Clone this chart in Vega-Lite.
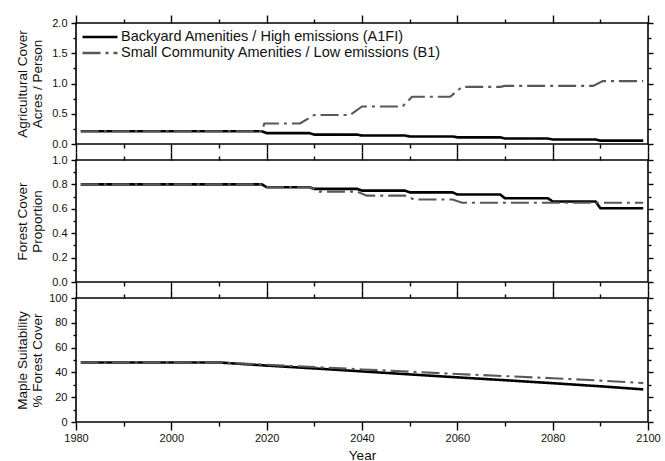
{
  "$schema": "https://vega.github.io/schema/vega-lite/v6.json",
  "padding": {"left": 14, "top": 13, "right": 5, "bottom": 0},
  "bounds": "flush",
  "spacing": 16,
  "config": {
    "view": {"stroke": "#000000", "strokeWidth": 1.6},
    "axis": {
      "domain": false, "grid": false,
      "tickColor": "#000000", "tickWidth": 1.4,
      "labelFont": "Liberation Sans", "labelFontSize": 11, "labelColor": "#111111",
      "titleFont": "Liberation Sans", "titleFontSize": 13.5, "titleFontWeight": "normal", "titleColor": "#111111",
      "labelOverlap": false, "labelFlush": false, "labelBound": false
    },
    "legend": {
      "labelFont": "Liberation Sans", "labelFontSize": 14.5, "labelColor": "#111111"
    }
  },
  "datasets": {
    "rows": [
      {"panel": "agri", "scenario": "A1FI", "year": 1981, "value": 0.21},
      {"panel": "agri", "scenario": "A1FI", "year": 2019, "value": 0.21},
      {"panel": "agri", "scenario": "A1FI", "year": 2020, "value": 0.18},
      {"panel": "agri", "scenario": "A1FI", "year": 2029, "value": 0.18},
      {"panel": "agri", "scenario": "A1FI", "year": 2030, "value": 0.155},
      {"panel": "agri", "scenario": "A1FI", "year": 2039, "value": 0.155},
      {"panel": "agri", "scenario": "A1FI", "year": 2040, "value": 0.14},
      {"panel": "agri", "scenario": "A1FI", "year": 2049, "value": 0.14},
      {"panel": "agri", "scenario": "A1FI", "year": 2050, "value": 0.125},
      {"panel": "agri", "scenario": "A1FI", "year": 2059, "value": 0.125},
      {"panel": "agri", "scenario": "A1FI", "year": 2060, "value": 0.11},
      {"panel": "agri", "scenario": "A1FI", "year": 2069, "value": 0.11},
      {"panel": "agri", "scenario": "A1FI", "year": 2070, "value": 0.09},
      {"panel": "agri", "scenario": "A1FI", "year": 2079, "value": 0.09},
      {"panel": "agri", "scenario": "A1FI", "year": 2080, "value": 0.075},
      {"panel": "agri", "scenario": "A1FI", "year": 2089, "value": 0.075},
      {"panel": "agri", "scenario": "A1FI", "year": 2090, "value": 0.055},
      {"panel": "agri", "scenario": "A1FI", "year": 2099, "value": 0.055},
      {"panel": "agri", "scenario": "B1", "year": 1981, "value": 0.21},
      {"panel": "agri", "scenario": "B1", "year": 2019, "value": 0.21},
      {"panel": "agri", "scenario": "B1", "year": 2019.5, "value": 0.34},
      {"panel": "agri", "scenario": "B1", "year": 2027, "value": 0.34},
      {"panel": "agri", "scenario": "B1", "year": 2030, "value": 0.48},
      {"panel": "agri", "scenario": "B1", "year": 2037.5, "value": 0.48},
      {"panel": "agri", "scenario": "B1", "year": 2040, "value": 0.62},
      {"panel": "agri", "scenario": "B1", "year": 2048.5, "value": 0.62},
      {"panel": "agri", "scenario": "B1", "year": 2050.5, "value": 0.78},
      {"panel": "agri", "scenario": "B1", "year": 2058.5, "value": 0.78},
      {"panel": "agri", "scenario": "B1", "year": 2061, "value": 0.945},
      {"panel": "agri", "scenario": "B1", "year": 2069, "value": 0.945},
      {"panel": "agri", "scenario": "B1", "year": 2070, "value": 0.96},
      {"panel": "agri", "scenario": "B1", "year": 2088.5, "value": 0.96},
      {"panel": "agri", "scenario": "B1", "year": 2090.5, "value": 1.04},
      {"panel": "agri", "scenario": "B1", "year": 2099, "value": 1.04},
      {"panel": "forest", "scenario": "A1FI", "year": 1981, "value": 0.8},
      {"panel": "forest", "scenario": "A1FI", "year": 2019, "value": 0.8},
      {"panel": "forest", "scenario": "A1FI", "year": 2020, "value": 0.777},
      {"panel": "forest", "scenario": "A1FI", "year": 2029, "value": 0.777},
      {"panel": "forest", "scenario": "A1FI", "year": 2030, "value": 0.763},
      {"panel": "forest", "scenario": "A1FI", "year": 2039, "value": 0.763},
      {"panel": "forest", "scenario": "A1FI", "year": 2040, "value": 0.749},
      {"panel": "forest", "scenario": "A1FI", "year": 2049, "value": 0.749},
      {"panel": "forest", "scenario": "A1FI", "year": 2050, "value": 0.735},
      {"panel": "forest", "scenario": "A1FI", "year": 2059, "value": 0.735},
      {"panel": "forest", "scenario": "A1FI", "year": 2060, "value": 0.717},
      {"panel": "forest", "scenario": "A1FI", "year": 2069, "value": 0.717},
      {"panel": "forest", "scenario": "A1FI", "year": 2070, "value": 0.686},
      {"panel": "forest", "scenario": "A1FI", "year": 2079, "value": 0.686},
      {"panel": "forest", "scenario": "A1FI", "year": 2080, "value": 0.66},
      {"panel": "forest", "scenario": "A1FI", "year": 2089, "value": 0.66},
      {"panel": "forest", "scenario": "A1FI", "year": 2090, "value": 0.605},
      {"panel": "forest", "scenario": "A1FI", "year": 2099, "value": 0.605},
      {"panel": "forest", "scenario": "B1", "year": 1981, "value": 0.8},
      {"panel": "forest", "scenario": "B1", "year": 2019, "value": 0.8},
      {"panel": "forest", "scenario": "B1", "year": 2020, "value": 0.777},
      {"panel": "forest", "scenario": "B1", "year": 2029, "value": 0.777},
      {"panel": "forest", "scenario": "B1", "year": 2031, "value": 0.741},
      {"panel": "forest", "scenario": "B1", "year": 2039, "value": 0.741},
      {"panel": "forest", "scenario": "B1", "year": 2041, "value": 0.708},
      {"panel": "forest", "scenario": "B1", "year": 2049, "value": 0.708},
      {"panel": "forest", "scenario": "B1", "year": 2051, "value": 0.676},
      {"panel": "forest", "scenario": "B1", "year": 2059, "value": 0.676},
      {"panel": "forest", "scenario": "B1", "year": 2061, "value": 0.649},
      {"panel": "forest", "scenario": "B1", "year": 2099, "value": 0.649},
      {"panel": "maple", "scenario": "A1FI", "year": 1981, "value": 48},
      {"panel": "maple", "scenario": "A1FI", "year": 2010, "value": 48},
      {"panel": "maple", "scenario": "A1FI", "year": 2020, "value": 45.5},
      {"panel": "maple", "scenario": "A1FI", "year": 2030, "value": 43.2},
      {"panel": "maple", "scenario": "A1FI", "year": 2040, "value": 40.8},
      {"panel": "maple", "scenario": "A1FI", "year": 2050, "value": 38.4},
      {"panel": "maple", "scenario": "A1FI", "year": 2060, "value": 36.0},
      {"panel": "maple", "scenario": "A1FI", "year": 2070, "value": 33.7},
      {"panel": "maple", "scenario": "A1FI", "year": 2080, "value": 31.3},
      {"panel": "maple", "scenario": "A1FI", "year": 2090, "value": 28.8},
      {"panel": "maple", "scenario": "A1FI", "year": 2099, "value": 26.3},
      {"panel": "maple", "scenario": "B1", "year": 1981, "value": 48},
      {"panel": "maple", "scenario": "B1", "year": 2010, "value": 48},
      {"panel": "maple", "scenario": "B1", "year": 2020, "value": 46.2},
      {"panel": "maple", "scenario": "B1", "year": 2030, "value": 44.3},
      {"panel": "maple", "scenario": "B1", "year": 2040, "value": 42.4},
      {"panel": "maple", "scenario": "B1", "year": 2050, "value": 40.6},
      {"panel": "maple", "scenario": "B1", "year": 2060, "value": 38.7},
      {"panel": "maple", "scenario": "B1", "year": 2070, "value": 37.0},
      {"panel": "maple", "scenario": "B1", "year": 2080, "value": 35.3},
      {"panel": "maple", "scenario": "B1", "year": 2090, "value": 33.4},
      {"panel": "maple", "scenario": "B1", "year": 2099, "value": 31.4}
    ]
  },
  "data": {"name": "rows"},
  "vconcat": [
    {
      "width": 572, "height": 121,
      "transform": [{"filter": "datum.panel == 'agri'"}],
      "layer": [
        {
          "transform": [{"filter": "datum.scenario == 'A1FI'"}],
          "mark": {"type": "line", "strokeWidth": 2.6},
          "encoding": {
            "x": {"field": "year", "type": "quantitative", "scale": {"domain": [1980, 2100], "nice": false, "zero": false},
              "axis": {"orient": "bottom", "values": [1980,1990,2000,2010,2020,2030,2040,2050,2060,2070,2080,2090,2100], "labels": false, "title": null,
                "tickSize": {"condition": {"test": "datum.value % 20 === 0", "value": 8}, "value": 4}}},
            "y": {"field": "value", "type": "quantitative", "scale": {"domain": [0, 2], "nice": false},
              "axis": {"orient": "left", "values": [0,0.25,0.5,0.75,1,1.25,1.5,1.75,2],
                "labelExpr": "abs(datum.value*2 - round(datum.value*2)) < 0.000001 ? format(datum.value, '.1f') : ''",
                "tickSize": {"condition": {"test": "abs(datum.value*2 - round(datum.value*2)) < 0.000001", "value": 5}, "value": 3},
                "labelPadding": 4,
                "title": ["Agricultural Cover", "Acres / Person"], "titleX": -54, "titleBaseline": "middle", "titleLineHeight": 15.5}},
            "color": {"field": "scenario", "type": "nominal", "scale": {"domain": ["A1FI", "B1"], "range": ["#000000", "#585858"]},
              "legend": {"orient": "none", "legendX": 5, "legendY": 6, "title": null, "symbolType": "stroke", "symbolSize": 1225, "symbolStrokeWidth": 2.4,
                "labelLimit": 500, "labelOffset": 2, "rowPadding": 0, "clipHeight": 16, "padding": 0,
                "labelExpr": "datum.label == 'A1FI' ? 'Backyard Amenities / High emissions (A1FI)' : 'Small Community Amenities / Low emissions (B1)'"}},
            "strokeDash": {"field": "scenario", "type": "nominal", "scale": {"domain": ["A1FI", "B1"], "range": [[1, 0], [18, 5, 3, 5]]},
              "legend": {"orient": "none", "legendX": 5, "legendY": 6, "title": null, "symbolType": "stroke", "symbolSize": 1225, "symbolStrokeWidth": 2.4,
                "labelLimit": 500, "labelOffset": 2, "rowPadding": 0, "clipHeight": 16, "padding": 0,
                "labelExpr": "datum.label == 'A1FI' ? 'Backyard Amenities / High emissions (A1FI)' : 'Small Community Amenities / Low emissions (B1)'"}}
          }
        },
        {
          "transform": [{"filter": "datum.scenario == 'B1'"}],
          "mark": {"type": "line", "strokeWidth": 2.1},
          "encoding": {
            "x": {"field": "year", "type": "quantitative",
              "axis": {"orient": "top", "values": [1980,1990,2000,2010,2020,2030,2040,2050,2060,2070,2080,2090,2100], "labels": false, "title": null,
                "tickSize": {"condition": {"test": "datum.value % 20 === 0", "value": 8}, "value": 4}}},
            "y": {"field": "value", "type": "quantitative",
              "axis": {"orient": "right", "values": [0,0.25,0.5,0.75,1,1.25,1.5,1.75,2], "labels": false, "title": null,
                "tickSize": {"condition": {"test": "abs(datum.value*2 - round(datum.value*2)) < 0.000001", "value": 5}, "value": 3}}},
            "color": {"field": "scenario", "type": "nominal", "legend": null},
            "strokeDash": {"field": "scenario", "type": "nominal", "legend": null}
          }
        }
      ],
      "resolve": {"axis": {"x": "independent", "y": "independent"}}
    },
    {
      "width": 572, "height": 122,
      "transform": [{"filter": "datum.panel == 'forest'"}],
      "layer": [
        {
          "transform": [{"filter": "datum.scenario == 'A1FI'"}],
          "mark": {"type": "line", "strokeWidth": 2.6},
          "encoding": {
            "x": {"field": "year", "type": "quantitative", "scale": {"domain": [1980, 2100], "nice": false, "zero": false},
              "axis": {"orient": "bottom", "values": [1980,1990,2000,2010,2020,2030,2040,2050,2060,2070,2080,2090,2100], "labels": false, "title": null,
                "tickSize": {"condition": {"test": "datum.value % 20 === 0", "value": 8}, "value": 4}}},
            "y": {"field": "value", "type": "quantitative", "scale": {"domain": [0, 1], "nice": false},
              "axis": {"orient": "left", "values": [0,0.1,0.2,0.3,0.4,0.5,0.6,0.7,0.8,0.9,1.0],
                "labelExpr": "round(datum.value*10) % 2 === 0 ? format(datum.value, '.1f') : ''",
                "tickSize": {"condition": {"test": "round(datum.value*10) % 2 === 0", "value": 5}, "value": 3},
                "labelPadding": 4,
                "title": ["Forest Cover", "Proportion"], "titleX": -54, "titleBaseline": "middle", "titleLineHeight": 15.5}},
            "color": {"field": "scenario", "type": "nominal", "legend": null},
            "strokeDash": {"field": "scenario", "type": "nominal", "legend": null}
          }
        },
        {
          "transform": [{"filter": "datum.scenario == 'B1'"}],
          "mark": {"type": "line", "strokeWidth": 2.1},
          "encoding": {
            "x": {"field": "year", "type": "quantitative",
              "axis": {"orient": "top", "values": [1980,1990,2000,2010,2020,2030,2040,2050,2060,2070,2080,2090,2100], "labels": false, "title": null,
                "tickSize": {"condition": {"test": "datum.value % 20 === 0", "value": 8}, "value": 4}}},
            "y": {"field": "value", "type": "quantitative",
              "axis": {"orient": "right", "values": [0,0.1,0.2,0.3,0.4,0.5,0.6,0.7,0.8,0.9,1.0], "labels": false, "title": null,
                "tickSize": {"condition": {"test": "round(datum.value*10) % 2 === 0", "value": 5}, "value": 3}}},
            "color": {"field": "scenario", "type": "nominal", "legend": null},
            "strokeDash": {"field": "scenario", "type": "nominal", "legend": null}
          }
        }
      ],
      "resolve": {"axis": {"x": "independent", "y": "independent"}}
    },
    {
      "width": 572, "height": 124,
      "transform": [{"filter": "datum.panel == 'maple'"}],
      "layer": [
        {
          "transform": [{"filter": "datum.scenario == 'A1FI'"}],
          "mark": {"type": "line", "strokeWidth": 2.6},
          "encoding": {
            "x": {"field": "year", "type": "quantitative", "scale": {"domain": [1980, 2100], "nice": false, "zero": false},
              "axis": {"orient": "bottom", "values": [1980,1990,2000,2010,2020,2030,2040,2050,2060,2070,2080,2090,2100],
                "labelExpr": "datum.value % 20 === 0 ? format(datum.value, 'd') : ''", "labelPadding": 2,
                "title": "Year", "titleY": 26, "titleBaseline": "top",
                "tickSize": {"condition": {"test": "datum.value % 20 === 0", "value": 8}, "value": 4}}},
            "y": {"field": "value", "type": "quantitative", "scale": {"domain": [0, 100], "nice": false},
              "axis": {"orient": "left", "values": [0,10,20,30,40,50,60,70,80,90,100],
                "labelExpr": "datum.value % 20 === 0 ? format(datum.value, 'd') : ''",
                "tickSize": {"condition": {"test": "datum.value % 20 === 0", "value": 5}, "value": 3},
                "labelPadding": 4,
                "title": ["Maple Suitability", "% Forest Cover"], "titleX": -54, "titleBaseline": "middle", "titleLineHeight": 15.5}},
            "color": {"field": "scenario", "type": "nominal", "legend": null},
            "strokeDash": {"field": "scenario", "type": "nominal", "legend": null}
          }
        },
        {
          "transform": [{"filter": "datum.scenario == 'B1'"}],
          "mark": {"type": "line", "strokeWidth": 2.1},
          "encoding": {
            "x": {"field": "year", "type": "quantitative",
              "axis": {"orient": "top", "values": [1980,1990,2000,2010,2020,2030,2040,2050,2060,2070,2080,2090,2100], "labels": false, "title": null,
                "tickSize": {"condition": {"test": "datum.value % 20 === 0", "value": 8}, "value": 4}}},
            "y": {"field": "value", "type": "quantitative",
              "axis": {"orient": "right", "values": [0,10,20,30,40,50,60,70,80,90,100], "labels": false, "title": null,
                "tickSize": {"condition": {"test": "datum.value % 20 === 0", "value": 5}, "value": 3}}},
            "color": {"field": "scenario", "type": "nominal", "legend": null},
            "strokeDash": {"field": "scenario", "type": "nominal", "legend": null}
          }
        }
      ],
      "resolve": {"axis": {"x": "independent", "y": "independent"}}
    }
  ]
}
